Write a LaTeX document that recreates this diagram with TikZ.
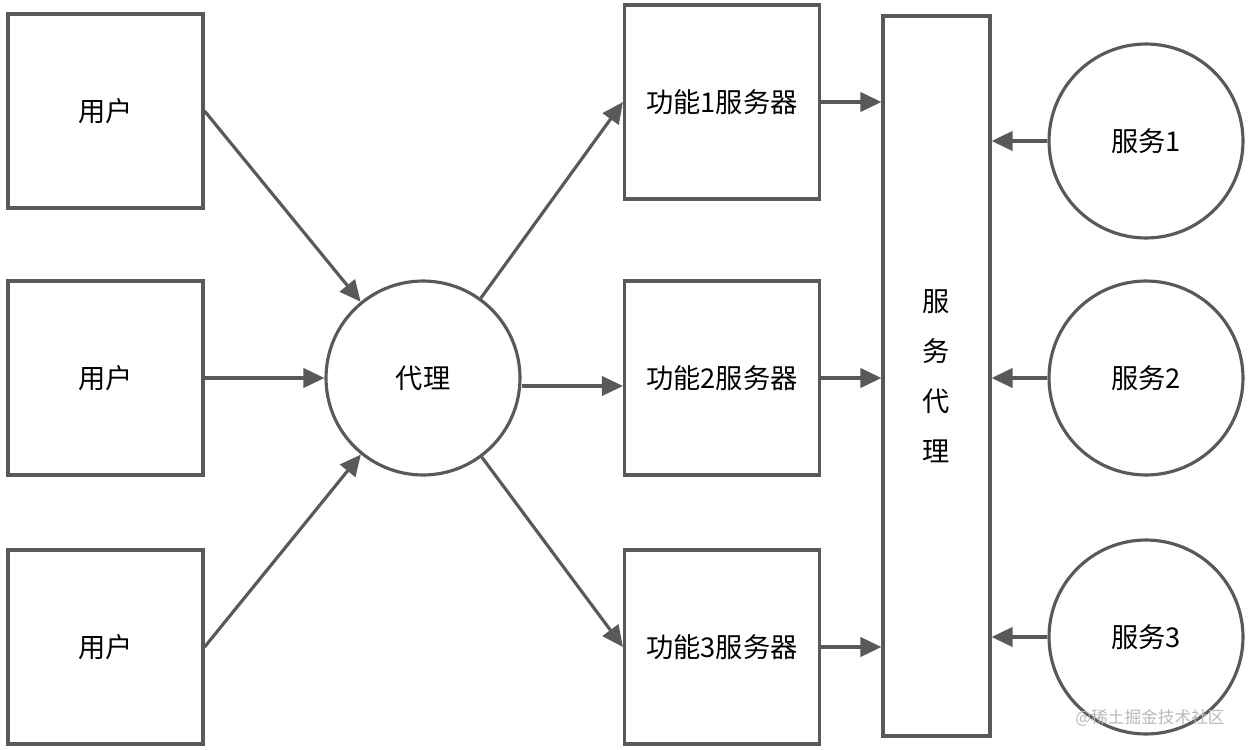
\documentclass[tikz,border=0pt]{standalone}
\usepackage{fontspec}
\setmainfont{Noto Sans CJK SC}
\usepackage{xcolor}
\usetikzlibrary{shapes.geometric, arrows.meta, positioning}
\definecolor{linegray}{HTML}{595959}
\begin{document}
\begin{tikzpicture}[x=0.02cm, y=-0.02cm]
        \tikzstyle{user} = [rectangle, minimum width=3.9cm, minimum height=3.88cm, text centered, draw=linegray, line width=1.8pt, font=\fontsize{15.5}{18}\selectfont]
        \tikzstyle{func} = [user]
        \tikzstyle{hub} = [circle, minimum size=3.88cm, text centered, draw=linegray, line width=1.8pt, font=\fontsize{15.5}{18}\selectfont]
        \tikzstyle{conn} = [-{Triangle[length=12pt, width=11pt]}, draw=linegray, color=linegray, line width=1.8pt]
        \useasboundingbox (0,0) rectangle (1252,750);

        \node (u1) [user] at (105.5,111) {用户};
        \node (u2) [user] at (105.5,378) {用户};
        \node (u3) [user] at (105.5,647) {用户};
        \node (proxy) [hub] at (423,378) {代理};

        \node (f1) [func] at (722,102) {功能1服务器};
        \node (f2) [func] at (722,378) {功能2服务器};
        \node (f3) [func] at (722,647) {功能3服务器};

        \node (sp) [rectangle, minimum width=2.14cm, minimum height=14.4cm, draw=linegray, line width=1.8pt, align=center, font=\fontsize{15.5}{28.5}\selectfont] at (936.5,376) {服\\务\\代\\理};

        \node (s1) [hub] at (1146,141) {服务1};
        \node (s2) [hub] at (1146,378) {服务2};
        \node (s3) [hub] at (1146,637) {服务3};

        \node (mark) [text=gray!55, font=\fontsize{9.5}{11}\selectfont] at (1150,718) {@稀土掘金技术社区};

        \draw [conn] (u1.east) -- (proxy);
        \draw [conn] (u2.east) -- (proxy);
        \draw [conn] (u3.east) -- (proxy);
        \draw [conn] (proxy) -- (f1.west);
        \draw [conn] ([yshift=-8*0.02cm]proxy.east) -- ([yshift=-8*0.02cm]f2.west);
        \draw [conn] (proxy) -- (f3.west);
        \draw [conn] (f1.east) -- (f1.east -| sp.west);
        \draw [conn] (f2.east) -- (f2.east -| sp.west);
        \draw [conn] (f3.east) -- (f3.east -| sp.west);
        \draw [conn] (s1.west) -- (s1.west -| sp.east);
        \draw [conn] (s2.west) -- (s2.west -| sp.east);
        \draw [conn] (s3.west) -- (s3.west -| sp.east);
    \end{tikzpicture}
\end{document}
